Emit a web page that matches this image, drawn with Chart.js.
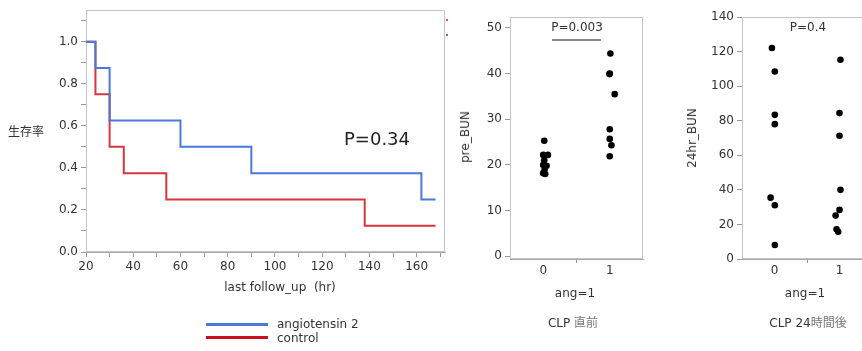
<!DOCTYPE html>
<html><head><meta charset="utf-8">
<script src="https://cdn.jsdelivr.net/npm/chart.js@4.4.1/dist/chart.umd.min.js"></script>
<style>
html,body{margin:0;padding:0;width:862px;height:351px;overflow:hidden;background:#fff;}
body{position:relative;font-family:"DejaVu Sans",sans-serif;color:#333;}
canvas{position:absolute;top:0;}
.t{position:absolute;white-space:pre;font-size:12px;line-height:1;transform:translate(-50%,-50%);}
.l{position:absolute;white-space:pre;font-size:12px;line-height:1;transform:translateY(-50%);}
.cjk{font-family:"Noto Sans CJK JP",sans-serif;}
</style></head><body>
<canvas id="km" width="460" height="300" style="left:0"></canvas>
<canvas id="pre" width="220" height="351" style="left:440px"></canvas>
<canvas id="h24" width="220" height="351" style="left:660px"></canvas>

<div class="t cjk" style="left:26px;top:131px;font-size:12px;">生存率</div>
<div class="t" style="left:377px;top:139px;font-size:18px;color:#222;">P=0.34</div>
<div class="t" style="left:280px;top:287px;">last follow_up  (hr)</div>
<div style="position:absolute;left:446px;top:19px;width:2px;height:2px;background:#e05060;"></div>
<div style="position:absolute;left:446px;top:34px;width:2px;height:2px;background:#5070e0;"></div>

<div style="position:absolute;left:206px;top:323px;width:62px;height:2.5px;background:#4a78db;"></div>
<div style="position:absolute;left:206px;top:336px;width:62px;height:2.5px;background:#c8101e;"></div>
<div class="l" style="left:277px;top:324px;">angiotensin 2</div>
<div class="l" style="left:277px;top:338px;">control</div>

<div class="t" style="left:577px;top:27px;">P=0.003</div>
<div style="position:absolute;left:552px;top:39px;width:49px;height:1.5px;background:#888;"></div>
<div class="t" style="left:465px;top:137px;transform:translate(-50%,-50%) rotate(-90deg);">pre_BUN</div>
<div class="t" style="left:575px;top:293px;">ang=1</div>
<div class="t" style="left:573px;top:322px;">CLP <span class="cjk" style="color:#777;">直前</span></div>

<div class="t" style="left:808px;top:27px;">P=0.4</div>
<div class="t" style="left:692px;top:138px;transform:translate(-50%,-50%) rotate(-90deg);">24hr_BUN</div>
<div class="t" style="left:805px;top:293px;">ang=1</div>
<div class="t" style="left:808px;top:322px;">CLP 24<span class="cjk" style="color:#777;">時間後</span></div>

<script>
// ---- Kaplan-Meier data ----
const angTimes = [20, 24, 30, 60, 90, 162, 168];
const angSurv  = [1.0, 0.875, 0.625, 0.5, 0.375, 0.25, 0.25];
const ctlTimes = [20, 24, 30, 36, 54, 138, 168];
const ctlSurv  = [1.0, 0.75, 0.5, 0.375, 0.25, 0.125, 0.125];
const kmXTicks = [20, 30, 40, 50, 60, 70, 80, 90, 100, 110, 120, 130, 140, 150, 160, 170];
const kmXLabels = [20, 40, 60, 80, 100, 120, 140, 160];
const kmYTicks = [0, 0.1, 0.2, 0.3, 0.4, 0.5, 0.6, 0.7, 0.8, 0.9, 1.0, 1.1];
const kmYLabels = [0, 0.2, 0.4, 0.6, 0.8, 1.0];

// ---- pre_BUN (CLP 直前) ----
const pre0 = [25.3, 22.2, 22.2, 21.0, 20.0, 19.8, 19.0, 18.2, 18.0];
const pre0x = [0.015, 0.0, 0.07, 0.015, 0.0, 0.05, 0.02, 0.0, 0.03];
const pre1 = [44.4, 40.0, 39.9, 35.5, 27.8, 25.7, 24.3, 21.9];
const pre1x = [1.01, 1.0, 0.995, 1.075, 1.0, 1.0, 1.025, 1.0];
const preYTicks = [0, 10, 20, 30, 40, 50];

// ---- 24hr_BUN (CLP 24時間後) ----
const h0 = [122.1, 108.5, 83.4, 78.0, 35.5, 31.1, 8.1];
const h0x = [-0.04, 0.005, 0.005, 0.005, -0.06, 0.005, 0.005];
const h1 = [115.3, 84.4, 71.3, 40.0, 28.4, 25.1, 17.2, 15.8];
const h1x = [1.015, 1.0, 1.0, 1.015, 1.0, 0.94, 0.955, 0.98];
const hYTicks = [0, 20, 40, 60, 80, 100, 120, 140];

const catTicks = [0, 0.5, 1];
const catLabels = ['0', '', '1'];

Chart.defaults.font.family = '"DejaVu Sans", sans-serif';
Chart.defaults.font.size = 12;
Chart.defaults.color = '#333';

const frame = {
  id: 'frame',
  beforeDatasetsDraw(chart) {
    const {ctx, chartArea: a} = chart;
    ctx.save();
    ctx.strokeStyle = '#c4c4c4';
    ctx.lineWidth = 1;
    ctx.strokeRect(Math.round(a.left) + 0.5, Math.round(a.top) + 0.5,
                   Math.round(a.right - a.left) - 1, Math.round(a.bottom - a.top) - 1);
    ctx.restore();
  }
};

const setTicks = arr => scale => { scale.ticks = arr.map(v => ({value: v})); };
const near = (arr, v) => arr.some(a => Math.abs(a - v) < 1e-6);

const toXY = (xs, ys) => ys.map((y, i) => ({x: xs[i], y: y}));

new Chart(document.getElementById('km'), {
  type: 'line',
  data: {
    datasets: [
      {label: 'angiotensin 2', data: toXY(angTimes, angSurv), borderColor: '#4a78db',
       borderWidth: 2, pointRadius: 0, stepped: true, fill: false},
      {label: 'control', data: toXY(ctlTimes, ctlSurv), borderColor: '#d7363f',
       borderWidth: 2, pointRadius: 0, stepped: true, fill: false}
    ]
  },
  options: {
    responsive: false, animation: false, devicePixelRatio: 1,
    layout: {padding: {left: 0, top: 10, right: 15, bottom: 0}},
    plugins: {legend: {display: false}, tooltip: {enabled: false}},
    scales: {
      x: {
        type: 'linear', min: 20, max: 172,
        afterBuildTicks: setTicks(kmXTicks),
        afterFit(s) { s.height = 48; },
        ticks: {autoSkip: false, maxRotation: 0, padding: 3, color: '#333',
                callback: v => near(kmXLabels, v) ? String(v) : ''},
        grid: {drawOnChartArea: false, drawTicks: true, tickLength: 5, color: '#999'},
        border: {color: '#aaa'}
      },
      y: {
        type: 'linear', min: 0, max: 1.15,
        afterBuildTicks: setTicks(kmYTicks),
        afterFit(s) { s.width = 86; },
        ticks: {autoSkip: false, padding: 3, color: '#333',
                callback: v => near(kmYLabels, v) ? v.toFixed(1) : ''},
        grid: {drawOnChartArea: false, drawTicks: true, tickLength: 5, color: '#999'},
        border: {color: '#aaa'}
      }
    }
  },
  plugins: [frame]
});

function dotChart(id, g0, g0x, g1, g1x, yMin, yMax, yTicks, yWidth, padRight) {
  new Chart(document.getElementById(id), {
    type: 'scatter',
    data: {
      datasets: [
        {data: toXY(g0x, g0), backgroundColor: '#000', borderColor: '#000', pointRadius: 3.3, borderWidth: 0},
        {data: toXY(g1x, g1), backgroundColor: '#000', borderColor: '#000', pointRadius: 3.3, borderWidth: 0}
      ]
    },
    options: {
      responsive: false, animation: false, devicePixelRatio: 1,
      layout: {padding: {left: 0, top: 17, right: padRight, bottom: 0}},
      plugins: {legend: {display: false}, tooltip: {enabled: false}},
      scales: {
        x: {
          type: 'linear', min: -0.5, max: 1.5,
          afterBuildTicks: setTicks(catTicks),
          afterFit(s) { s.height = 92; },
          ticks: {autoSkip: false, maxRotation: 0, padding: 1, color: '#333',
                  callback: (v, i) => catLabels[i]},
          grid: {drawOnChartArea: false, drawTicks: true, tickLength: 4,
                 color: c => (c.tick && Math.abs(c.tick.value - 0.5) < 1e-6) ? '#999' : 'rgba(0,0,0,0)'},
          border: {color: '#aaa'}
        },
        y: {
          type: 'linear', min: yMin, max: yMax,
          afterBuildTicks: setTicks(yTicks),
          afterFit(s) { s.width = yWidth; },
          ticks: {autoSkip: false, padding: 3, color: '#333', callback: v => String(v)},
          grid: {drawOnChartArea: false, drawTicks: true, tickLength: 5, color: '#999'},
          border: {color: '#aaa'}
        }
      }
    },
    plugins: [frame]
  });
}

dotChart('pre', pre0, pre0x, pre1, pre1x, -0.6, 52.4, preYTicks, 70, 17);
dotChart('h24', h0, h0x, h1, h1x, 0, 140, hYTicks, 82, 8);
</script>
</body></html>
